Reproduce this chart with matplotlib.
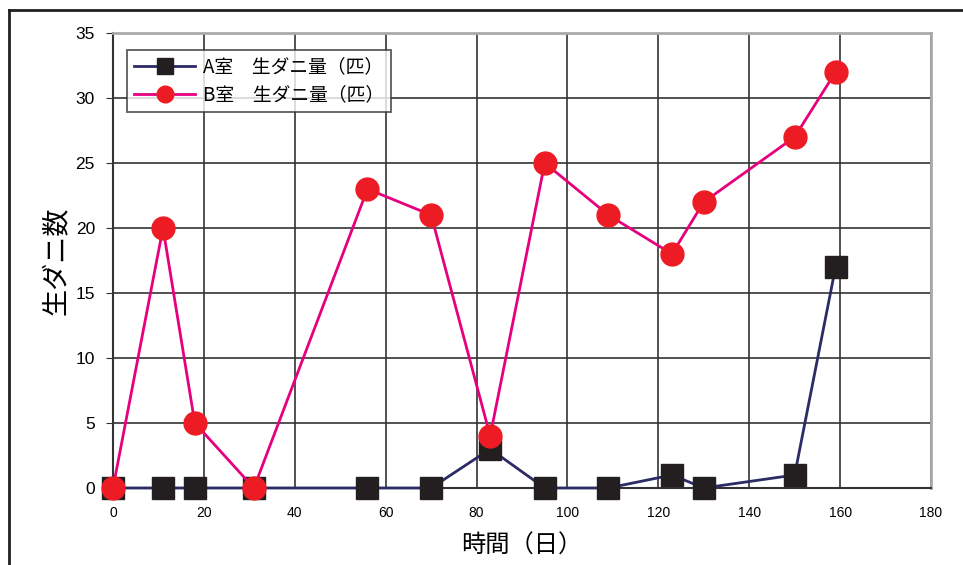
import matplotlib
matplotlib.use("Agg")
import matplotlib.pyplot as plt
from matplotlib.lines import Line2D

plt.rcParams['font.family'] = ['Noto Sans CJK JP', 'DejaVu Sans']

days_a = [0, 11, 18, 31, 56, 70, 83, 95, 109, 123, 130, 150, 159]
mites_a = [0, 0, 0, 0, 0, 0, 3, 0, 0, 1, 0, 1, 17]
days_b = [0, 11, 18, 31, 56, 70, 83, 95, 109, 123, 130, 150, 159]
mites_b = [0, 20, 5, 0, 23, 21, 4, 25, 21, 18, 22, 27, 32]
label_a = "A室　生ダニ量（匹）"
label_b = "B室　生ダニ量（匹）"
xticks = list(range(0, 181, 20))
yticks = list(range(0, 36, 5))

fig = plt.figure(figsize=(9.63, 5.65), dpi=100)
ax = fig.add_axes([113/963, 1-488/565, (931-113)/963, (488-33)/565])

ax.plot(days_a, mites_a, color='#2b2b66', lw=2, marker='s', ms=15.5,
        mfc='#231f20', mec='#231f20', label=label_a, zorder=3, clip_on=False)
ax.plot(days_b, mites_b, color='#e6007e', lw=2, marker='o', ms=16.5,
        mfc='#ed1c24', mec='#ed1c24', label=label_b, zorder=4, clip_on=False)

ax.set_xlim(0, 180)
ax.set_ylim(0, 35)
ax.set_xticks(xticks)
ax.set_yticks(yticks)
ax.grid(True, color='#333333', lw=1.2)
ax.set_axisbelow(True)
for s in ['top', 'right']:
    ax.spines[s].set_color('#aaaaaa')
    ax.spines[s].set_linewidth(2)
for s in ['left', 'bottom']:
    ax.spines[s].set_color('#333333')
    ax.spines[s].set_linewidth(1.5)
ax.tick_params(axis='x', length=0, pad=13, labelsize=10)
ax.tick_params(axis='y', length=5, direction='out', pad=8, labelsize=12.5, color='#333333')
for lab in ax.get_yticklabels():
    lab.set_family(['Liberation Sans', 'DejaVu Sans'])
for lab in ax.get_xticklabels():
    lab.set_family(['Liberation Sans', 'DejaVu Sans'])

ax.set_xlabel("時間（日）", fontsize=17.5, labelpad=9)
ax.set_ylabel("生ダニ数", fontsize=19.5, labelpad=3)

leg = ax.legend(loc='upper left', bbox_to_anchor=(14/818, 1-17/455), fontsize=13.5,
                frameon=True, fancybox=False, handlelength=3.3, borderpad=0.35,
                labelspacing=0.35, handletextpad=0.4, borderaxespad=0)
leg.get_frame().set_edgecolor('#333333')
leg.get_frame().set_linewidth(1.3)
for h in leg.legend_handles:
    h.set_markersize(12)

fx = 9/963
fy = 1-10/565
fig.add_artist(Line2D([fx, fx], [0, fy], transform=fig.transFigure, color='#231f20', lw=2))
fig.add_artist(Line2D([fx, 1], [fy, fy], transform=fig.transFigure, color='#231f20', lw=2))

fig.savefig("out.png", dpi=100)
